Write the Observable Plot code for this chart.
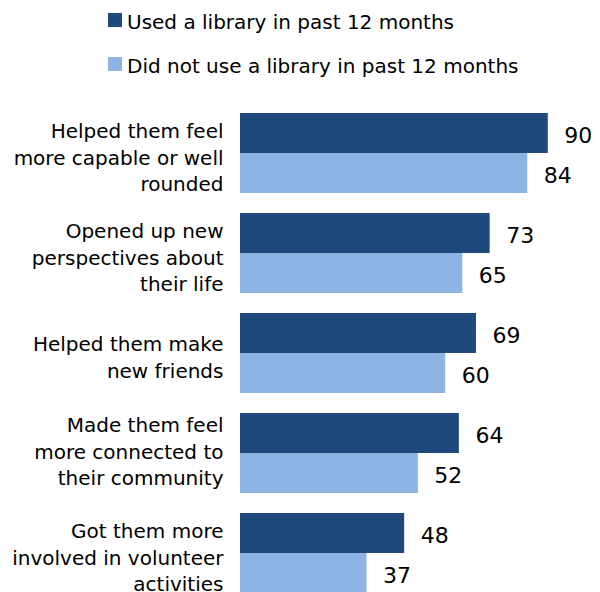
<!DOCTYPE html>
<html><head><meta charset="utf-8">
<script src="https://cdn.jsdelivr.net/npm/d3@7"></script>
<script src="https://cdn.jsdelivr.net/npm/@observablehq/plot@0.6"></script>
<style>
body{margin:0;background:#fff;font-family:"DejaVu Sans",sans-serif;}
#legend{position:relative;height:94px;width:600px;}
.sw{position:absolute;left:108px;width:14px;height:14px;}
.lt{position:absolute;left:127px;font-size:20px;line-height:20px;color:#000;white-space:nowrap;}
#chart svg{display:block;}
</style></head><body><div id="legend"></div><div id="chart"></div>
<script>
const categories = [
  "Helped them feel more capable or well rounded",
  "Opened up new perspectives about their life",
  "Helped them make new friends",
  "Made them feel more connected to their community",
  "Got them more involved in volunteer activities"
];
const labels = [
  "Helped them feel\nmore capable or well\nrounded",
  "Opened up new\nperspectives about\ntheir life",
  "Helped them make\nnew friends",
  "Made them feel\nmore connected to\ntheir community",
  "Got them more\ninvolved in volunteer\nactivities"
];
const seriesNames = ["Used a library in past 12 months", "Did not use a library in past 12 months"];
const used = [90, 73, 69, 64, 48];
const notUsed = [84, 65, 60, 52, 37];
const colors = ["#1F497D", "#8DB4E2"];

// legend
const legend = document.getElementById("legend");
seriesNames.forEach((s, i) => {
  const sw = document.createElement("div");
  sw.className = "sw";
  sw.style.top = (13 + i * 44) + "px";
  sw.style.background = colors[i];
  legend.appendChild(sw);
  const t = document.createElement("div");
  t.className = "lt";
  t.style.top = (12 + i * 44) + "px";
  t.textContent = s;
  legend.appendChild(t);
});

const rows = categories.flatMap((c, i) => [
  {cat: c, s: seriesNames[0], v: used[i]},
  {cat: c, s: seriesNames[1], v: notUsed[i]}
]);

const labelOpts = {fy: d => d, text: d => labels[categories.indexOf(d)], frameAnchor: "left", textAnchor: "end", dx: -17, lineHeight: 1.33, fontSize: 20, fill: "#000"};

const chart = Plot.plot({
  width: 600, height: 499,
  marginTop: 19, marginBottom: 0, marginLeft: 240, marginRight: 18,
  style: {fontFamily: "DejaVu Sans", fontSize: "20px", color: "#000", background: "#fff"},
  x: {domain: [0, 100], axis: null},
  y: {domain: seriesNames, axis: null, padding: 0, round: false},
  fy: {domain: categories, axis: null, paddingInner: 0.2, paddingOuter: 0, round: false},
  color: {domain: seriesNames, range: colors},
  marks: [
    Plot.barX(rows, {fy: "cat", y: "s", x: "v", fill: "s"}),
    Plot.text(rows, {fy: "cat", y: "s", x: "v", text: d => String(d.v), textAnchor: "start", dx: 16, dy: 2, fontSize: 22, fill: "#000"}),
    Plot.text(categories.filter(c => c !== categories[3]), {...labelOpts, dy: 2.5}),
    Plot.text([categories[3]], {...labelOpts, dy: -3.5})
  ]
});
document.getElementById("chart").appendChild(chart);
</script>
</body></html>
